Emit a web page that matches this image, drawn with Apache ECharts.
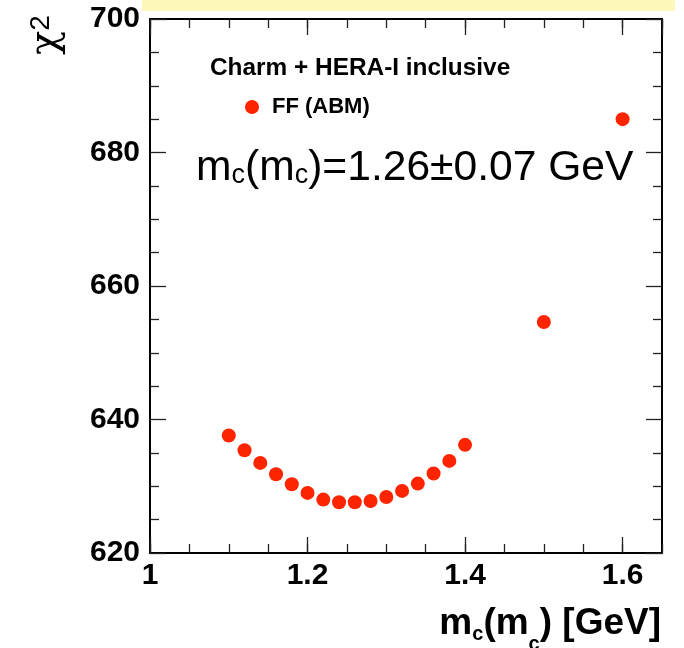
<!DOCTYPE html>
<html>
<head>
<meta charset="utf-8">
<script src="https://cdn.jsdelivr.net/npm/echarts@6/dist/echarts.min.js"></script>
<style>
  html, body { margin: 0; padding: 0; background: #fff; }
  #chart { width: 684px; height: 648px; }
</style>
</head>
<body>
<div id="chart"></div>
<script>
// charm mass scan
const massValues = [1.10, 1.12, 1.14, 1.16, 1.18, 1.20, 1.22, 1.24, 1.26, 1.28, 1.30, 1.32, 1.34, 1.36, 1.38, 1.40, 1.50, 1.60];
const chi2Values = [637.6, 635.4, 633.5, 631.8, 630.3, 629.0, 628.0, 627.6, 627.6, 627.8, 628.4, 629.3, 630.4, 631.9, 633.8, 636.2, 654.6, 685.0];
const xTicks = [1, 1.2, 1.4, 1.6];
const yTicks = [620, 640, 660, 680, 700];
const xMax = 1.65;
const seriesName = 'FF (ABM)';
const headerText = 'Charm + HERA-I inclusive';

const FONT = 'Liberation Sans, Arial, Helvetica, sans-serif';
const xStep = xTicks[1] - xTicks[0];
const yStep = yTicks[1] - yTicks[0];

const chart = echarts.init(document.getElementById('chart'));

const frameLine = { show: true, lineStyle: { color: '#000', width: 2 } };
const majorTick = { show: true, inside: true, length: 16, lineStyle: { color: '#222', width: 1.3 } };
const minorTickStyle = { show: true, inside: true, length: 9, lineStyle: { color: '#222', width: 1.3 } };

function xAxis(position, minor) {
    return {
        type: 'value',
        position: position,
        min: xTicks[0],
        max: xMax,
        interval: minor ? xStep / 4 : xStep,
        axisLine: minor ? { show: false } : frameLine,
        axisTick: minor ? minorTickStyle : majorTick,
        axisLabel: {
            show: position === 'bottom' && !minor,
            showMaxLabel: false,
            margin: 8,
            fontSize: 30,
            fontWeight: 'bold',
            fontFamily: FONT,
            color: '#000',
            formatter: (v) => String(+v.toFixed(2))
        },
        splitLine: { show: false }
    };
}

function yAxis(position) {
    return {
        type: 'value',
        position: position,
        min: yTicks[0],
        max: yTicks[yTicks.length - 1],
        interval: yStep,
        axisLine: frameLine,
        axisTick: majorTick,
        minorTick: Object.assign({ splitNumber: 4 }, minorTickStyle),
        axisLabel: {
            show: position === 'left',
            margin: 10,
            fontSize: 30,
            fontWeight: 'bold',
            fontFamily: FONT,
            color: '#000'
        },
        splitLine: { show: false },
        minorSplitLine: { show: false }
    };
}

chart.setOption({
    animation: false,
    backgroundColor: '#fff',
    grid: { left: 150, right: 22, top: 19, bottom: 95, containLabel: false, outerBoundsMode: 'none' },
    title: {
        text: headerText,
        left: 210,
        top: 56,
        padding: 0,
        textStyle: { fontSize: 24.4, fontWeight: 'bold', fontFamily: FONT, color: '#000' }
    },
    legend: {
        data: [seriesName],
        left: 245,
        top: 96,
        padding: 0,
        icon: 'circle',
        itemWidth: 14,
        itemHeight: 14,
        textStyle: { fontSize: 22, fontWeight: 'bold', fontFamily: FONT, color: '#000', padding: [0, 0, 0, 8] }
    },
    xAxis: [xAxis('bottom', false), xAxis('bottom', true), xAxis('top', false), xAxis('top', true)],
    yAxis: [yAxis('left'), yAxis('right')],
    series: [{
        name: seriesName,
        type: 'scatter',
        xAxisIndex: 0,
        yAxisIndex: 0,
        symbol: 'circle',
        symbolSize: 14,
        itemStyle: { color: '#ff2400', opacity: 1 },
        data: massValues.map((m, i) => [m, chi2Values[i]])
    }],
    graphic: [
        {
            type: 'rect',
            shape: { x: 142, y: 0, width: 533, height: 11 },
            style: { fill: '#fdf7bb' },
            silent: true
        },
        {
            type: 'text',
            x: 196,
            y: 147,
            style: {
                text: '{m|m}{c|c}{m|(m}{c|c}{m|)=1.26±0.07 GeV}',
                align: 'left',
                verticalAlign: 'top',
                rich: {
                    m: { fontSize: 42.6, lineHeight: 42, fontFamily: FONT, color: '#000', verticalAlign: 'top' },
                    c: { fontSize: 27, lineHeight: 27, fontFamily: FONT, color: '#000', verticalAlign: 'top', padding: [15, 0, 0, 0] }
                }
            }
        },
        {
            type: 'text',
            x: 661,
            y: 605,
            style: {
                text: '{m|m}{a|c}{m|(m}{b|c}{m|) [GeV]}',
                align: 'right',
                verticalAlign: 'top',
                rich: {
                    m: { fontSize: 37, lineHeight: 37, fontWeight: 'bold', fontFamily: FONT, color: '#000', verticalAlign: 'top' },
                    a: { fontSize: 20, lineHeight: 20, fontWeight: 'bold', fontFamily: FONT, color: '#000', verticalAlign: 'top', padding: [19, 0, 0, 0] },
                    b: { fontSize: 20, lineHeight: 20, fontWeight: 'bold', fontFamily: FONT, color: '#000', verticalAlign: 'top', padding: [29, 0, 0, 0] }
                }
            }
        },
        {
            type: 'text',
            x: 47,
            y: 35,
            rotation: Math.PI / 2,
            style: {
                text: '{c|χ}{s|2}',
                align: 'center',
                verticalAlign: 'middle',
                rich: {
                    c: { fontSize: 40, lineHeight: 40, fontFamily: 'DejaVu Serif, serif', color: '#000', verticalAlign: 'top' },
                    s: { fontSize: 28, lineHeight: 28, fontFamily: FONT, color: '#000', verticalAlign: 'top' }
                }
            }
        }
    ]
});
</script>
</body>
</html>
